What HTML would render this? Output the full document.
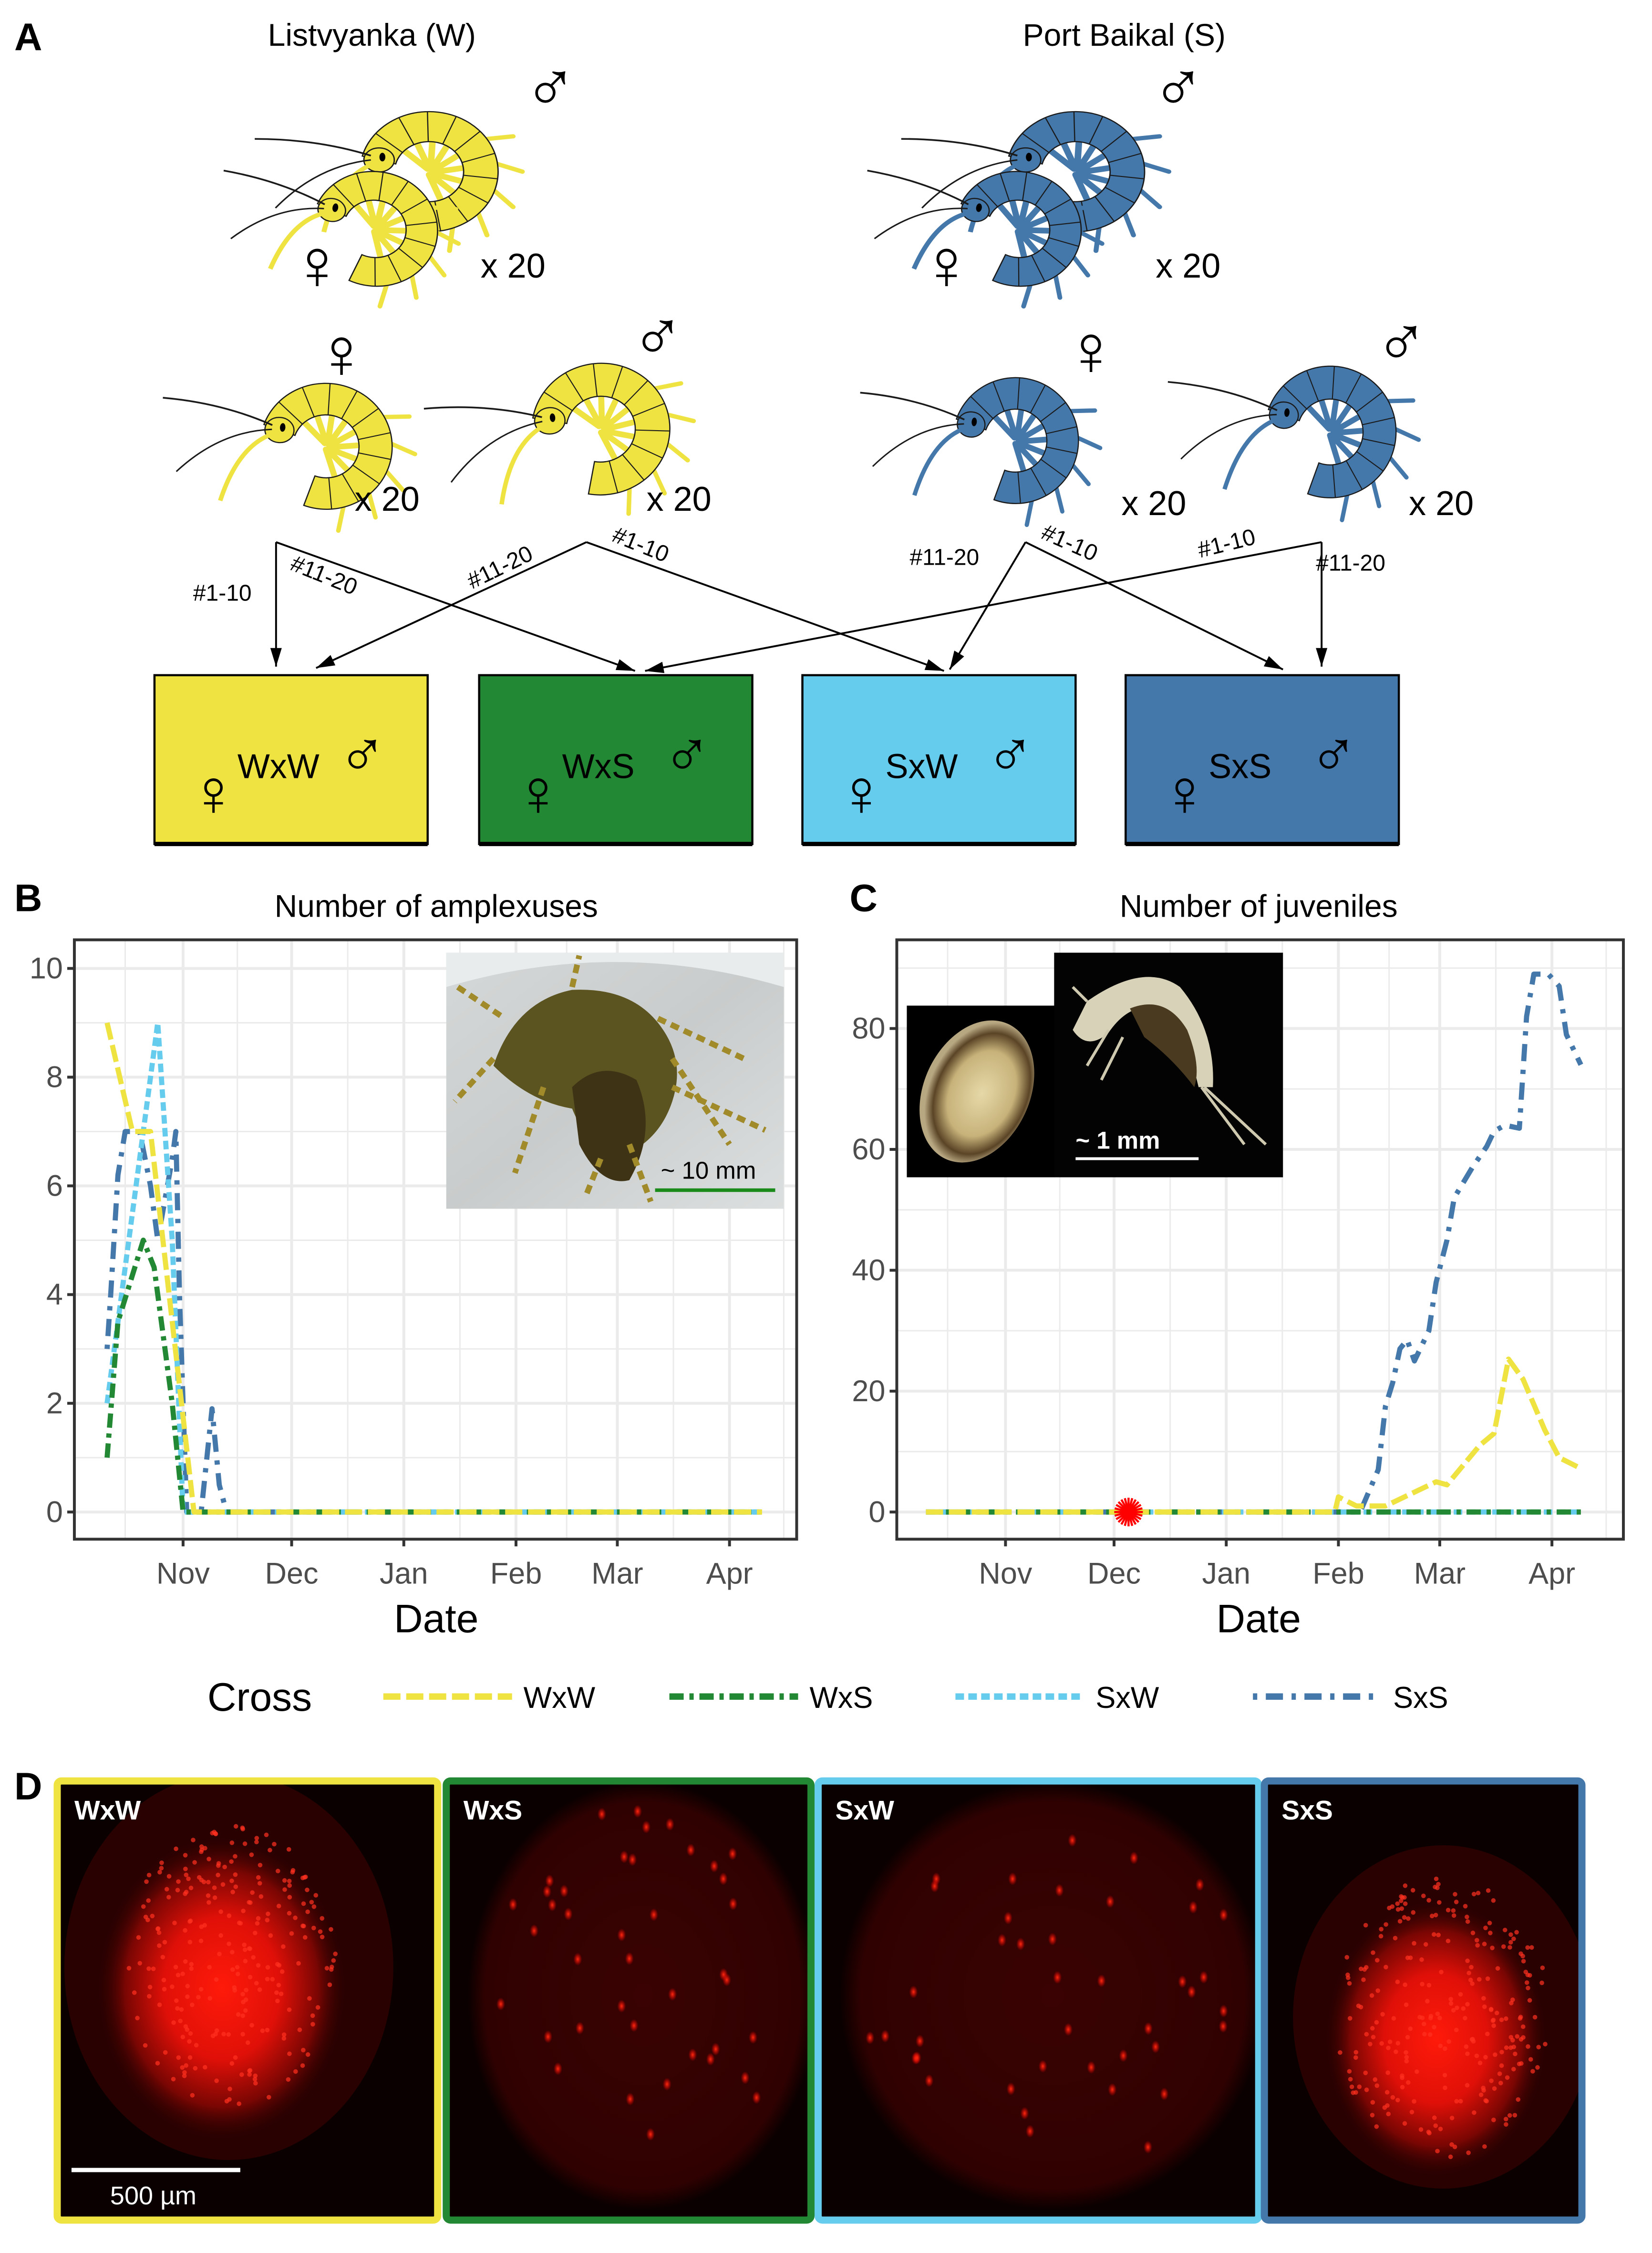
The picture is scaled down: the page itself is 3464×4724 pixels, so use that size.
<!DOCTYPE html>
<html><head><meta charset="utf-8"><style>
html,body{margin:0;padding:0;background:#fff}
svg{display:block}
text{font-family:"Liberation Sans","DejaVu Sans",Arial,sans-serif}
</style></head><body>
<svg id="fig" xmlns="http://www.w3.org/2000/svg" width="3464" height="4724" viewBox="0 0 1155 1575" preserveAspectRatio="none">
<defs>
<radialGradient id="gW" cx="0.5" cy="0.5" r="0.5"><stop offset="0" stop-color="#ff1a0a"/><stop offset="0.45" stop-color="#e01008"/><stop offset="0.75" stop-color="#7a0603"/><stop offset="1" stop-color="#1a0000" stop-opacity="0"/></radialGradient>
<radialGradient id="gDisk" cx="0.5" cy="0.5" r="0.5"><stop offset="0" stop-color="#3a0202"/><stop offset="0.9" stop-color="#300101"/><stop offset="1" stop-color="#0a0000"/></radialGradient>
<radialGradient id="gDot" cx="0.5" cy="0.5" r="0.5"><stop offset="0" stop-color="#ff2a10"/><stop offset="1" stop-color="#ff0000" stop-opacity="0"/></radialGradient>
<linearGradient id="gPhoto" x1="0" y1="0" x2="1" y2="1"><stop offset="0" stop-color="#d5d8d8"/><stop offset="0.5" stop-color="#c9cccc"/><stop offset="1" stop-color="#dcdfdf"/></linearGradient>
<radialGradient id="gEgg" cx="0.55" cy="0.5" r="0.5"><stop offset="0" stop-color="#e6d9a8"/><stop offset="0.6" stop-color="#c7b27a"/><stop offset="0.85" stop-color="#5a4426"/><stop offset="1" stop-color="#b8a882"/></radialGradient>
<clipPath id="cp0"><rect x="40" y="1245" width="266" height="307"/></clipPath>
<clipPath id="cp1"><rect x="312" y="1245" width="255" height="307"/></clipPath>
<clipPath id="cp2"><rect x="572" y="1245" width="308" height="307"/></clipPath>
<clipPath id="cp3"><rect x="884" y="1245" width="222" height="307"/></clipPath>
</defs>

<!-- Panel A -->
<g id="panelA">
<text x="10" y="35" font-size="27" font-weight="bold">A</text>
<text x="260" y="32" font-size="22" text-anchor="middle">Listvyanka (W)</text>
<text x="786" y="32" font-size="22" text-anchor="middle">Port Baikal (S)</text>
<g id="amphs"></g>
<g font-size="50">
<text x="366" y="78">♂</text>
<text x="203" y="202">♀</text>
<text x="220" y="264">♀</text>
<text x="441" y="252">♂</text>
<text x="805" y="78">♂</text>
<text x="643" y="202">♀</text>
<text x="744" y="262">♀</text>
<text x="961" y="256">♂</text>
</g>
<g font-size="24">
<text x="336" y="194">x 20</text>
<text x="248" y="357">x 20</text>
<text x="452" y="357">x 20</text>
<text x="808" y="194">x 20</text>
<text x="784" y="360">x 20</text>
<text x="985" y="360">x 20</text>
</g>
<g id="arrows" stroke="#000" stroke-width="1.3" fill="none"></g>
<g font-size="16">
<text x="135" y="420">#1-10</text>
<text transform="translate(202,398) rotate(22)">#11-20</text>
<text transform="translate(330,412) rotate(-26)">#11-20</text>
<text transform="translate(427,378) rotate(22)">#1-10</text>
<text x="636" y="395">#11-20</text>
<text transform="translate(727,376) rotate(24)">#1-10</text>
<text transform="translate(839,390) rotate(-14)">#1-10</text>
<text x="920" y="399">#11-20</text>
</g>
<g id="boxes"></g>
</g>

<!-- Panel B -->
<g>
<text x="10" y="637" font-size="27" font-weight="bold">B</text>
<text x="305" y="641" font-size="22" text-anchor="middle">Number of amplexuses</text>
<g id="chartB"></g>
<text x="305" y="1141" font-size="28" text-anchor="middle">Date</text>
</g>
<!-- Panel C -->
<g>
<text x="594" y="637" font-size="27" font-weight="bold">C</text>
<text x="880" y="641" font-size="22" text-anchor="middle">Number of juveniles</text>
<g id="chartC"></g>
<text x="880" y="1141" font-size="28" text-anchor="middle">Date</text>
</g>

<!-- Legend -->
<g id="legend">
<text x="145" y="1196" font-size="28">Cross</text>
</g>

<!-- Panel D -->
<g id="panelD">
<text x="10" y="1258" font-size="27" font-weight="bold">D</text>
</g>
</svg>
<script>
// ---------- chart data ----------
const crosses = ["WxW","WxS","SxW","SxS"];
const crossColors = ["#EFE342","#228833","#66CCEE","#4477AA"];
const crossDash = ["12,4","10,4,3,4","6,3","3,6,12,6"];
const monthLabels = ["Nov","Dec","Jan","Feb","Mar","Apr"];
const monthDays = [31,61,92,123,151,182]; // days since Oct 1
const ampYTicks = [0,2,4,6,8,10];
const juvYTicks = [0,20,40,60,80];
// Amplexuses (B): days since Oct 1 and counts
const ampWxWDays = [10,17,22,34,191];
const ampWxWVals = [9,7,7,0,0];
const ampWxSDays = [10,13,20,23,28,31,191];
const ampWxSVals = [1,3.5,5,4.5,2,0,0];
const ampSxWDays = [10,14,20,24,28,31,191];
const ampSxWVals = [2,4,7,9,5,0,0];
const ampSxSDays = [10,11,13,15,19,22,24,28,29,30,31,32,36,39,41,43,191];
const ampSxSVals = [3,4,6.2,7,7,6,5,6.5,7,4,2,0,0,1.9,0.5,0,0];
// Juveniles (C)
const juvWxWDays = [9,122,123,128,136,143,150,153,162,166,170,174,180,184,189];
const juvWxWVals = [0,0,2.5,1,1,3,5,4.5,11,13,25.3,22,13.6,9,7.5];
const juvWxSDays = [9,190];
const juvWxSVals = [0,0];
const juvSxWDays = [9,190];
const juvSxWVals = [0,0];
const juvSxSDays = [9,129,134,136,138,140,142,144,148,150,153,155,160,164,166,169,173,175,177,181,184,186,190];
const juvSxSVals = [0,0,7,17.5,21.4,27,28.5,25,30,38,45,52,57,60.5,63,64,63.5,82,89,89,87,79,74];
const starDay = 65;

const NS="http://www.w3.org/2000/svg";
function mk(tag, attrs, parent){const e=document.createElementNS(NS,tag);for(const k in attrs)e.setAttribute(k,attrs[k]);if(parent)parent.appendChild(e);return e;}

function drawChart(gid, opt){
  const g=document.getElementById(gid);
  const {x0,x1,y0,y1,ymax,yticks,series}=opt;
  const xs=d=>opt.xNov + (d-31)*2.53;
  const ys=v=>opt.yzero - v*opt.ypx;
  const bg=mk('rect',{x:x0,y:y0,width:x1-x0,height:y1-y0,fill:'#fff'},g);
  
  
  const grid=mk('g',{stroke:'#ebebeb'},g);
  
  
  const minorD=[15].concat(monthDays.map((d,i)=>i<monthDays.length-1?(d+monthDays[i+1])/2:d+15));
  minorD.forEach(d=>{if(xs(d)>x1)return;const l=mk('line',{x1:xs(d),x2:xs(d),y1:y0,y2:y1,'stroke-width':1},grid);});
  monthDays.forEach(d=>{const l=mk('line',{x1:xs(d),x2:xs(d),y1:y0,y2:y1,'stroke-width':2},grid);});
  const step=yticks[1]-yticks[0];
  for(let v=yticks[0]-step/2; v<=ymax; v+=step/2){
    const yy=ys(v); if(yy<y0||yy>y1) continue;
    const major=Math.abs((v/step)-Math.round(v/step))<1e-6;
    const l=mk('line',{x1:x0,x2:x1,y1:yy,y2:yy,'stroke-width':major?2:1},grid);
    
    
  }
  series.forEach(s=>{
    const pts=s.days.map((d,j)=>xs(d).toFixed(2)+','+ys(s.vals[j]).toFixed(2)).join(' ');
    const pl=mk('polyline',{points:pts,fill:'none',stroke:crossColors[s.ci],'stroke-width':3.6,'stroke-dasharray':crossDash[s.ci],'stroke-linejoin':'round'},g);
    
    
  });
  (opt.after||(()=>{}))(g,xs,ys);
  const fr=mk('rect',{x:x0,y:y0,width:x1-x0,height:y1-y0,fill:'none',stroke:'#333','stroke-width':2},g);
  
  
  yticks.forEach(v=>{
    const t=mk('line',{x1:x0-5,x2:x0,y1:ys(v),y2:ys(v),stroke:'#333','stroke-width':2},g);
    
    
    const tx=mk('text',{x:x0-8,y:ys(v)+7,'font-size':21,'text-anchor':'end',fill:'#4d4d4d'},g);
    tx.textContent=v;
    
    
  });
  monthDays.forEach((d,i)=>{
    const t=mk('line',{x1:xs(d),x2:xs(d),y1:y1,y2:y1+5,stroke:'#333','stroke-width':2},g);
    
    
    const tx=mk('text',{x:xs(d),y:y1+31,'font-size':21,'text-anchor':'middle',fill:'#4d4d4d'},g);
    tx.textContent=monthLabels[i];
    
    
  });
}

// Chart B
drawChart('chartB',{x0:52,x1:557,y0:657,y1:1076,xNov:128,ymax:10.5,yzero:1057,ypx:38,yticks:ampYTicks,
 series:[{ci:3,days:ampSxSDays,vals:ampSxSVals},{ci:2,days:ampSxWDays,vals:ampSxWVals},{ci:1,days:ampWxSDays,vals:ampWxSVals},{ci:0,days:ampWxWDays,vals:ampWxWVals}],
 after:(g)=>{
  const ph=mk('g',{},g);
  
  
  mk('rect',{x:312,y:666,width:236,height:179,fill:'url(#gPhoto)'},ph);
  mk('path',{d:'M312 690 Q430 655 548 690 L548 666 L312 666 Z',fill:'#e9ecec'},ph);
  mk('path',{d:'M345 745 Q360 700 400 692 Q440 690 460 715 Q480 740 470 770 Q460 800 430 810 Q410 800 400 775 Q370 770 345 745 Z',fill:'#5b5420'},ph);
  mk('path',{d:'M400 760 Q420 740 445 755 Q460 790 440 825 Q420 830 405 800 Z',fill:'#3f3316'},ph);
  [[350,710,320,690],[345,740,318,770],[460,712,520,740],[470,740,510,800],[440,800,455,840],[420,810,410,835],[380,760,360,820],[470,760,535,790],[400,690,405,668]].forEach(a=>mk('line',{x1:a[0],y1:a[1],x2:a[2],y2:a[3],stroke:'#a08a2a','stroke-width':4,'stroke-dasharray':'6,4'},ph));
  const st=mk('text',{x:462,y:824,'font-size':17,fill:'#000'},ph);st.textContent='~ 10 mm';
  
  
  mk('line',{x1:458,x2:542,y1:832,y2:832,stroke:'#1a8a1a','stroke-width':2.5},ph);
 }});

// Chart C
drawChart('chartC',{x0:627,x1:1135,y0:657,y1:1076,xNov:703,ymax:95,yzero:1057,ypx:4.225,yticks:juvYTicks,
 series:[{ci:3,days:juvSxSDays,vals:juvSxSVals},{ci:2,days:juvSxWDays,vals:juvSxWVals},{ci:1,days:juvWxSDays,vals:juvWxSVals},{ci:0,days:juvWxWDays,vals:juvWxWVals}],
 after:(g,xs,ys)=>{
  const ph=mk('g',{},g);
  
  
  mk('rect',{x:634,y:703,width:104,height:120,fill:'#000'},ph);
  mk('ellipse',{cx:683,cy:763,rx:37,ry:52,transform:'rotate(25 683 763)',fill:'url(#gEgg)'},ph);
  mk('rect',{x:737,y:666,width:160,height:157,fill:'#030303'},ph);
  mk('path',{d:'M760 700 Q800 672 825 690 Q850 720 848 760 L838 760 Q830 725 810 705 Q790 700 775 722 Q760 735 750 720 Z',fill:'#d8d2b8'},ph);
  mk('path',{d:'M790 705 Q815 695 830 720 Q840 745 835 760 Q820 740 800 725 Z',fill:'#4a3a20'},ph);
  [[842,760,885,800],[840,760,870,800],[775,720,760,745],[785,725,770,755],[760,700,750,690]].forEach(a=>mk('line',{x1:a[0],y1:a[1],x2:a[2],y2:a[3],stroke:'#cfc9b0','stroke-width':2},ph));
  const st=mk('text',{x:752,y:803,'font-size':17,'font-weight':'bold',fill:'#fff'},ph);st.textContent='~ 1 mm';
  
  
  mk('line',{x1:752,x2:838,y1:810,y2:810,stroke:'#fff','stroke-width':2},ph);
  const star=mk('g',{stroke:'#ff0000','stroke-width':1.5},g);
  
  
  const sx=xs(starDay), sy=ys(0);
  for(let k=0;k<12;k++){const a=k*Math.PI/12;mk('line',{x1:sx-10*Math.cos(a),y1:sy-10*Math.sin(a),x2:sx+10*Math.cos(a),y2:sy+10*Math.sin(a)},star);}
 }});

// Legend
(function(){
  const lg=document.getElementById('legend');
  const lx=[268,468,668,876];
  crosses.forEach((c,i)=>{
    const l=mk('line',{x1:lx[i],x2:lx[i]+90,y1:1186,y2:1186,stroke:crossColors[i],'stroke-width':4.5,'stroke-dasharray':crossDash[i]},lg);
    
    
    const t=mk('text',{x:lx[i]+98,y:1194,'font-size':21},lg);
    t.textContent=c;
    
    
  });
})();

// Boxes panel A
(function(){
  const g=document.getElementById('boxes');
  const bx=[108,335,561,787];
  crosses.forEach((c,i)=>{
    const bgp=mk('g',{},g);
    
    
    mk('rect',{x:bx[i],y:472,width:191,height:118,fill:crossColors[i],stroke:'#000','stroke-width':1.5},bgp);
    mk('line',{x1:bx[i],x2:bx[i]+191,y1:590,y2:590,stroke:'#000','stroke-width':3},bgp);
    const f=mk('text',{x:bx[i]+24,y:570,'font-size':46},bgp);f.textContent='♀';
    const t=mk('text',{x:bx[i]+58,y:544,'font-size':24},bgp);t.textContent=c;
    const m=mk('text',{x:bx[i]+128,y:543,'font-size':46},bgp);m.textContent='♂';
  });
})();

// Arrows
(function(){
  const g=document.getElementById('arrows');
  const arr=[[193,379,193,466],[193,379,444,469],[410,379,221,467],[410,379,660,469],[717,379,664,468],[717,379,897,468],[924,379,451,469],[924,379,924,466]];
  arr.forEach(a=>{
    mk('line',{x1:a[0],y1:a[1],x2:a[2],y2:a[3]},g);
    const ang=Math.atan2(a[3]-a[1],a[2]-a[0]);
    const L=13,W=4;
    const bx=a[2]-L*Math.cos(ang), by=a[3]-L*Math.sin(ang);
    const p=`${a[2]},${a[3]} ${bx-W*Math.sin(ang)},${by+W*Math.cos(ang)} ${bx+W*Math.sin(ang)},${by-W*Math.cos(ang)}`;
    mk('polygon',{points:p,fill:'#000',stroke:'none'},g);
  });
})();

// Amphipods
(function(){
  const g=document.getElementById('amphs');
  function amph(cx,cy,R,color,sx,rot,name){
    const a=mk('g',{transform:`translate(${cx},${cy}) rotate(${rot}) scale(${sx},1)`},g);
    
    
    const r=R*0.5, t0=-165*Math.PI/180, t1=105*Math.PI/180;
    const P=(rad,t)=>[(rad*Math.cos(t)).toFixed(1),(rad*Math.sin(t)).toFixed(1)];
    const st='#1a1a1a';
    for(let k=0;k<9;k++){
      const t=t0+0.5+k*0.45; const p1=P(r+3,t), p2=P(r-R*0.45,t+0.35);
      mk('line',{x1:p1[0],y1:p1[1],x2:p2[0],y2:p2[1],stroke:color,'stroke-width':4,'stroke-linecap':'round'},a);
    }
    for(let k=0;k<5;k++){
      const t=-0.6+k*0.45; const p1=P(R-2,t), p2=P(R+R*0.35,t+0.15);
      mk('line',{x1:p1[0],y1:p1[1],x2:p2[0],y2:p2[1],stroke:color,'stroke-width':3,'stroke-linecap':'round'},a);
    }
    const o0=P(R,t0),o1=P(R,t1),i0=P(r,t0),i1=P(r,t1);
    mk('path',{d:`M${o0} A${R} ${R} 0 1 1 ${o1} L${i1} A${r} ${r} 0 1 0 ${i0} Z`,fill:color,stroke:st,'stroke-width':0.8},a);
    for(let k=1;k<11;k++){const t=t0+k*(t1-t0)/11;const p1=P(R,t),p2=P(r,t);mk('line',{x1:p1[0],y1:p1[1],x2:p2[0],y2:p2[1],stroke:st,'stroke-width':0.7},a);}
    const h=P((R+r)/2,t0);
    mk('ellipse',{cx:h[0],cy:h[1],rx:R*0.22,ry:R*0.2,fill:color,stroke:st,'stroke-width':0.8},a);
    mk('ellipse',{cx:+h[0]+2,cy:+h[1]-2,rx:1.8,ry:3,fill:'#000'},a);
    const hx=+h[0],hy=+h[1];
    mk('path',{d:`M${hx-5} ${hy-3} Q${hx-R*0.9} ${hy-R*0.35} ${hx-R*1.8} ${hy-R*0.35}`,fill:'none',stroke:st,'stroke-width':1.2},a);
    mk('path',{d:`M${hx-5} ${hy} Q${hx-R*0.9} ${hy+R*0.1} ${hx-R*1.5} ${hy+R*0.8}`,fill:'none',stroke:st,'stroke-width':1},a);
    mk('path',{d:`M${hx-4} ${hy+3} Q${hx-R*0.6} ${hy+R*0.3} ${hx-R*0.8} ${hy+R*1.2}`,fill:'none',stroke:color,'stroke-width':3},a);
  }
  const Y='#EFE342',B='#4477AA';
  amph(300,120,42,Y,1.15,0,'male-w-amplexus');
  amph(262,160,40,Y,1.1,10,'female-w-amplexus');
  amph(228,312,44,Y,1.05,5,'female-w');
  amph(420,300,46,Y,1.05,-5,'male-w');
  amph(752,120,42,B,1.15,0,'male-s-amplexus');
  amph(712,160,40,B,1.1,10,'female-s-amplexus');
  amph(710,308,44,B,1.0,5,'female-s');
  amph(930,302,46,B,1.0,5,'male-s');
})();

// Panel D fluorescence images
(function(){
  const g=document.getElementById('panelD');
  const pan=[[40,266,'WxW'],[312,255,'WxS'],[572,308,'SxW'],[884,222,'SxS']];
  let seed=7;const rnd=()=>{seed=(seed*16807)%2147483647;return seed/2147483647;};
  pan.forEach((p,i)=>{
    const [x,w,lab]=p;const y=1245,h=307;
    const pg=mk('g',{},g);
    
    
    const cg=mk('g',{'clip-path':`url(#cp${i})`},pg);
    mk('rect',{x:x,y:y,width:w,height:h,fill:'#0a0000'},cg);
    if(i==0||i==3){
      const cx=i==0?x+120:x+125, cy=i==0?y+130:y+165;
      mk('ellipse',{cx:cx,cy:cy,rx:i==0?115:105,ry:i==0?135:120,fill:'#2a0101'},cg);
      mk('ellipse',{cx:cx-5,cy:cy+15,rx:i==0?90:80,ry:i==0?110:100,fill:'url(#gW)'},cg);
      for(let k=0;k<260;k++){const a=rnd()*6.283,rr=Math.sqrt(rnd());mk('circle',{cx:cx+Math.cos(a)*rr*75,cy:cy+Math.sin(a)*rr*100,r:1.6,fill:'#ff3020','opacity':0.7},cg);}
    } else {
      mk('ellipse',{cx:x+w/2+10,cy:y+150,rx:w/2-5,ry:150,fill:'url(#gDisk)'},cg);
      for(let k=0;k<40;k++){const a=rnd()*6.283,rr=Math.sqrt(rnd())*0.95;mk('ellipse',{cx:x+w/2+10+Math.cos(a)*rr*(w/2-15),cy:y+150+Math.sin(a)*rr*140,rx:3,ry:4.5,fill:'url(#gDot)'},cg);}
    }
    mk('rect',{x:x,y:y,width:w,height:h,fill:'none',stroke:crossColors[i],'stroke-width':5,rx:3},pg);
    const t=mk('text',{x:x+12,y:y+27,'font-size':19,'font-weight':'bold',fill:'#fff'},pg);t.textContent=lab;
    
    
  });
  const sb=mk('line',{x1:50,x2:168,y1:1517,y2:1517,stroke:'#fff','stroke-width':3},g);
  
  
  const st=mk('text',{x:77,y:1541,'font-size':18,fill:'#fff'},g);st.textContent='500 µm';
  
  
})();
</script>
</body></html>
